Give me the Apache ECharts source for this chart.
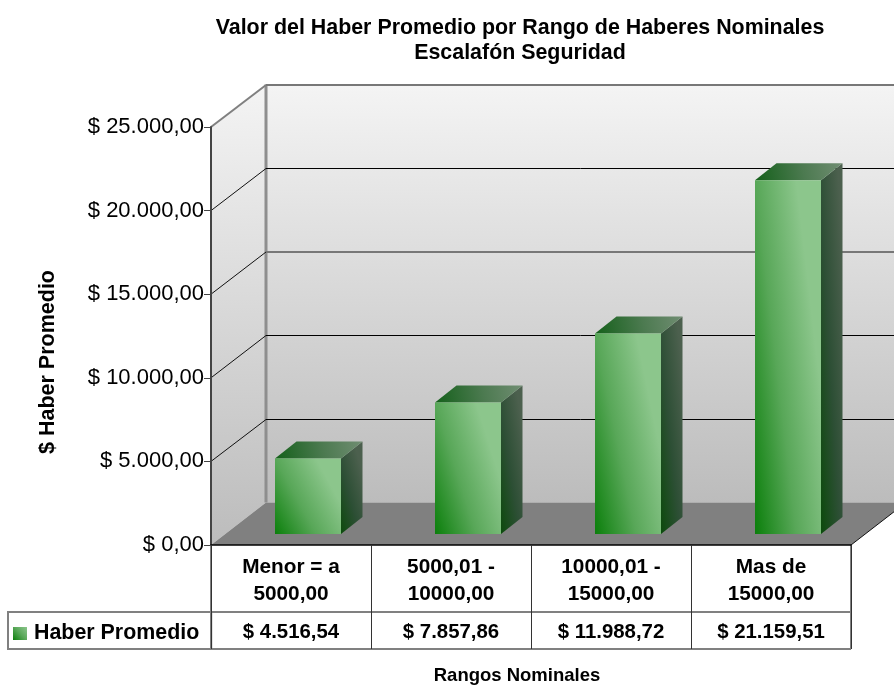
<!DOCTYPE html>
<html><head><meta charset="utf-8">
<style>html,body{margin:0;padding:0;background:#fff}#c{width:894px;height:686px}</style>
<script src="https://cdn.jsdelivr.net/npm/echarts@6/dist/echarts.min.js"></script>
</head><body><div id="c"></div>
<script>
const categories = ['Menor = a\n5000,00', '5000,01 -\n10000,00', '10000,01 -\n15000,00', 'Mas de\n15000,00'];
const haberPromedio = [4516.54, 7857.86, 11988.72, 21159.51];
const valueLabels = ['$ 4.516,54', '$ 7.857,86', '$ 11.988,72', '$ 21.159,51'];
const tickValues = [0, 5000, 10000, 15000, 20000, 25000];
const tickLabels = ['$ 0,00', '$ 5.000,00', '$ 10.000,00', '$ 15.000,00', '$ 20.000,00', '$ 25.000,00'];
const seriesName = 'Haber Promedio';

const FONT = '"Liberation Sans", Arial, sans-serif';
const chart = echarts.init(document.getElementById('c'));
const WD = {x: 55, y: -42.5};           // wall depth
const BO = {x: 17, y: -11};             // bar offset from the front plane
const BD = {x: 21.5, y: -17};           // bar depth
const BAR_W = 66;

function grad(x, yb, w, h, a, b, stops) {
  const vx = a / w, vy = b / h, n = vx * vx + vy * vy;
  return new echarts.graphic.LinearGradient(x, yb, x + vx / n, yb - vy / n, stops, true);
}
const frontStops = [{offset: 0, color: '#0b7f0b'}, {offset: 0.5, color: '#58a758'}, {offset: 1, color: '#8cc68c'}];
const sideStops = [{offset: 0, color: '#0c4a0c'}, {offset: 0.5, color: '#2d4f35'}, {offset: 1, color: '#4c604e'}];
const topStops = [{offset: 0, color: '#14601a'}, {offset: 0.55, color: '#4c7a50'}, {offset: 1, color: '#708d72'}];

function renderWalls(params, api) {
  const cs = params.coordSys, v = api.value(0), y = api.coord([0, v])[1];
  const L = cs.x, R = cs.x + cs.width, T = cs.y, B = cs.y + cs.height;
  const kids = [];
  if (params.dataIndex === 0) {
    const wf = () => new echarts.graphic.LinearGradient(0, 0, 0, 1,
      [{offset: 0, color: '#f4f4f4'}, {offset: 1, color: '#bcbcbc'}]);
    kids.push({type: 'rect', shape: {x: L + WD.x, y: T + WD.y, width: cs.width, height: cs.height},
      style: {fill: wf()}});
    kids.push({type: 'polygon', shape: {points: [[L, T], [L + WD.x, T + WD.y], [L + WD.x, B + WD.y], [L, B]]},
      style: {fill: wf()}});
    kids.push({type: 'polygon', shape: {points: [[L, B], [R, B], [R + WD.x, B + WD.y], [L + WD.x, B + WD.y]]},
      style: {fill: '#808080'}});
    kids.push({type: 'line', shape: {x1: R, y1: B, x2: R + WD.x, y2: B + WD.y},
      style: {stroke: '#111', lineWidth: 1}});
    kids.push({type: 'line', shape: {x1: L + WD.x, y1: T + WD.y, x2: L + WD.x, y2: B + WD.y},
      style: {stroke: '#8e8e8e', lineWidth: 3}});
  } else {
    const top = params.dataIndex === tickValues.length - 1;
    const grey = top || params.dataIndex === 3;
    const stroke = grey ? '#777' : '#000';
    const backY = Math.round(y + WD.y) + (grey ? 0 : 0.5);
    kids.push({type: 'line', shape: {x1: L, y1: y, x2: L + WD.x, y2: backY},
      style: {stroke: top ? '#808080' : '#111', lineWidth: top ? 2 : 1}});
    kids.push({type: 'line', shape: {x1: L + WD.x, y1: backY, x2: R + WD.x, y2: backY},
      style: {stroke, lineWidth: grey ? 2 : 1}});
  }
  return {type: 'group', children: kids};
}

function renderBar(params, api) {
  const i = api.value(0), v = api.value(1);
  const t = api.coord([i, v]), b = api.coord([i, 0]);
  const x = t[0] + BO.x - BAR_W / 2, yt = t[1] + BO.y, yb = b[1] + BO.y, h = yb - yt;
  const xr = x + BAR_W;
  return {type: 'group', children: [
    {type: 'polygon', shape: {points: [[xr, yb], [xr + BD.x, yb + BD.y], [xr + BD.x, yt + BD.y], [xr, yt]]},
      style: {fill: grad(xr, yb, BD.x, h, 0.55, 0.55, sideStops)}},
    {type: 'polygon', shape: {points: [[x, yt], [xr, yt], [xr + BD.x, yt + BD.y], [x + BD.x, yt + BD.y]]},
      style: {fill: new echarts.graphic.LinearGradient(x, yt, xr + BD.x, yt + BD.y, topStops, true)}},
    {type: 'rect', shape: {x, y: yt, width: BAR_W, height: h},
      style: {fill: grad(x, yb, BAR_W, h, 0.8, 0.5, frontStops)}}
  ]};
}

function renderTable(params, api) {
  const i = params.dataIndex, cs = params.coordSys;
  const c = api.coord([i, 0]), w = cs.width / categories.length, B = cs.y + cs.height;
  const l = c[0] - w / 2, r = c[0] + w / 2;
  const g = {stroke: '#808080', lineWidth: 2};
  const kids = [
    {type: 'line', shape: {x1: l, y1: B + 67, x2: r, y2: B + 67}, style: g},
    {type: 'line', shape: {x1: l, y1: B + 104, x2: r, y2: B + 104}, style: g},
    {type: 'text', style: {x: c[0], y: B + 87, text: valueLabels[i], fill: '#000',
      font: 'bold 20.4px ' + FONT, textAlign: 'center', textVerticalAlign: 'middle'}}
  ];
  if (i === categories.length - 1) kids.push({type: 'line', shape: {x1: r, y1: B, x2: r, y2: B + 104}, style: g});
  if (i === 0) kids.push({type: 'line', shape: {x1: l, y1: B, x2: l, y2: B + 104}, style: g});
  return {type: 'group', children: kids};
}

chart.setOption({
  animation: false,
  backgroundColor: '#fff',
  title: {
    text: 'Valor del Haber Promedio por Rango de Haberes Nominales\nEscalafón Seguridad',
    left: 515, top: 11, textAlign: 'center',
    textStyle: {fontFamily: FONT, fontSize: 21.4, fontWeight: 'bold', color: '#000', lineHeight: 25}
  },
  legend: {
    left: 8, top: 612, width: 203, height: 37,
    padding: [11, 12, 5, 5], borderColor: '#808080', borderWidth: 2,
    itemWidth: 14, itemHeight: 13, itemGap: 0,
    data: [{name: seriesName, icon: 'rect'}],
    textStyle: {fontFamily: FONT, fontSize: 21.4, fontWeight: 'bold', color: '#000', padding: [0, 0, 0, 2]}
  },
  grid: {left: 211, top: 127, width: 640, height: 418, containLabel: false, outerBoundsMode: 'none'},
  xAxis: {
    type: 'category', data: categories, z: 6,
    axisLine: {show: true, lineStyle: {color: '#000', width: 1.5}},
    axisTick: {show: true, length: 104, lineStyle: {color: '#333', width: 1}},
    axisLabel: {margin: 9, lineHeight: 27, color: '#000', fontFamily: FONT, fontSize: 20.8, fontWeight: 'bold', interval: 0},
    splitLine: {show: false},
    name: 'Rangos Nominales', nameLocation: 'middle', nameGap: 121,
    nameTextStyle: {fontFamily: FONT, fontSize: 18.5, fontWeight: 'bold', color: '#000', padding: [0, 28, 0, 0]}
  },
  yAxis: {
    type: 'value', min: 0, max: 25000, interval: 5000, z: 6,
    axisLine: {show: true, lineStyle: {color: '#444', width: 2}},
    axisTick: {show: true, length: 7, lineStyle: {color: '#444', width: 1}},
    axisLabel: {margin: 7, color: '#000', fontFamily: FONT, fontSize: 22,
      formatter: v => tickLabels[tickValues.indexOf(v)]},
    splitLine: {show: false},
    name: '$ Haber Promedio', nameLocation: 'middle', nameRotate: 90, nameGap: 152,
    nameTextStyle: {fontFamily: FONT, fontSize: 21.5, fontWeight: 'bold', color: '#000', padding: [0, 52, 0, 0]}
  },
  series: [
    {type: 'custom', name: 'walls', z: 1, silent: true, renderItem: renderWalls, clip: false,
      data: tickValues.map(v => [v]), encode: {y: 0}},
    {type: 'custom', name: seriesName, z: 3, renderItem: renderBar, clip: false,
      itemStyle: {color: new echarts.graphic.LinearGradient(0, 1, 1, 0, frontStops)},
      data: haberPromedio.map((v, i) => [i, v]), encode: {x: 0, y: 1}},
    {type: 'custom', name: 'table', z: 5, silent: true, renderItem: renderTable, clip: false,
      data: categories.map((c, i) => [i]), encode: {x: 0}}
  ]
});
</script></body></html>
